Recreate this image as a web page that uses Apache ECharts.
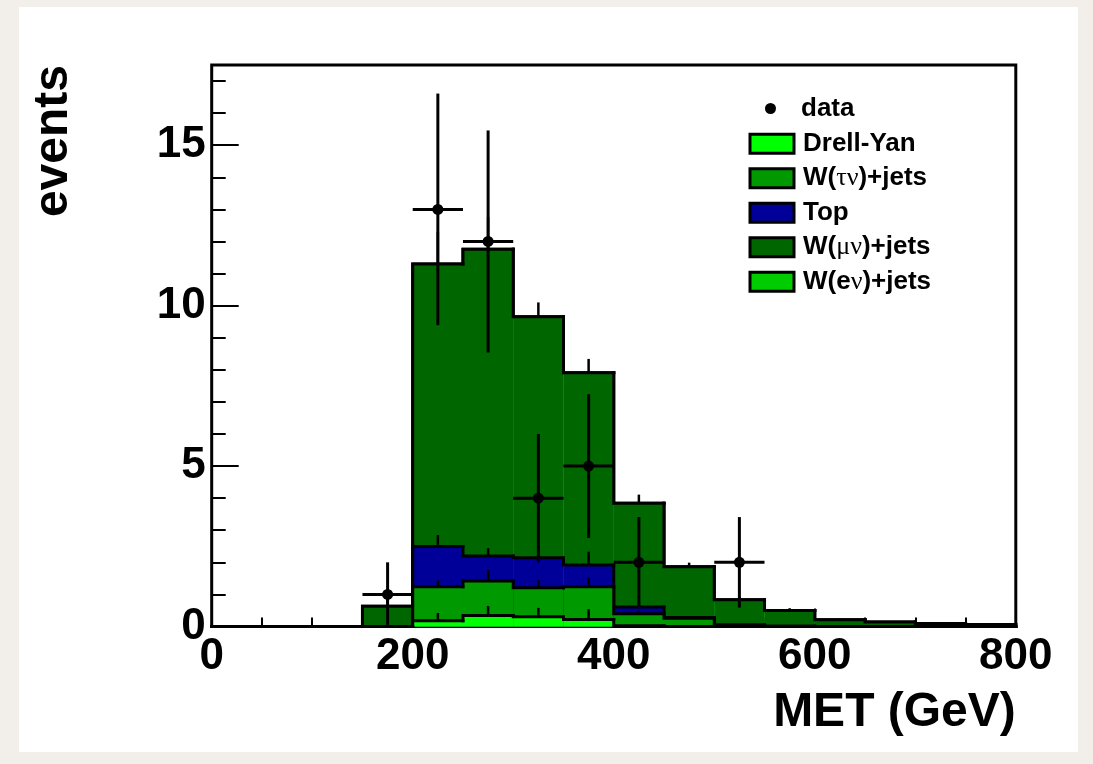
<!DOCTYPE html>
<html>
<head>
<meta charset="utf-8">
<script src="https://cdn.jsdelivr.net/npm/echarts@6/dist/echarts.min.js"></script>
<style>
  html, body { margin: 0; padding: 0; background: #f2efea; }
  #chart { width: 1093px; height: 764px; }
</style>
</head>
<body>
<div id="chart"></div>
<script>
// MET histogram bins: 50 GeV wide, 0 - 800 GeV
const binEdges = [0, 50, 100, 150, 200, 250, 300, 350, 400, 450, 500, 550, 600, 650, 700, 750, 800];

// Expected events per bin for each background sample (stacked bottom to top)
const drellYan = [0, 0, 0, 0, 0.18, 0.34, 0.30, 0.22, 0.02, 0, 0, 0, 0, 0, 0, 0];
const wTauNu   = [0, 0, 0, 0, 1.06, 1.08, 0.91, 1.02, 0.38, 0.26, 0.05, 0.01, 0, 0, 0, 0];
const topQuark = [0, 0, 0, 0, 1.25, 0.78, 0.93, 0.68, 0.21, 0.02, 0, 0, 0, 0, 0, 0];
const wMuNu    = [0, 0, 0, 0.63, 8.81, 9.56, 7.51, 5.99, 3.23, 1.58, 0.78, 0.49, 0.21, 0.14, 0.09, 0.06];
const wENu     = [0, 0, 0, 0, 0, 0, 0, 0, 0, 0, 0, 0, 0, 0, 0, 0];

// MC statistical uncertainty on each stacked histogram
const errDrellYan = [0, 0, 0, 0, 0.24, 0.30, 0.28, 0.32, 0, 0, 0, 0, 0, 0, 0, 0];
const errWTauNu   = [0, 0, 0, 0, 0.20, 0.34, 0.24, 0.30, 0.10, 0, 0, 0, 0, 0, 0, 0];
const errTop      = [0, 0, 0, 0, 0.36, 0.24, 0.30, 0.41, 0.15, 0, 0, 0, 0, 0, 0, 0];
const errWMuNu    = [0, 0, 0, 0.30, 1.00, 1.00, 0.45, 0.43, 0.27, 0.13, 0.07, 0.07, 0.04, 0, 0, 0];

// Observed data (bin centres, counts, sqrt(N) uncertainties)
const dataX   = [175, 225, 275, 325, 375, 425, 525];
const dataY   = [1, 13, 12, 4, 5, 2, 2];
const dataErr = [1, 3.61, 3.46, 2, 2.24, 1.41, 1.41];

// Axis ticks
const xMajorTicks = [0, 200, 400, 600, 800];
const xMinorTicks = [50, 100, 150, 250, 300, 350, 450, 500, 550, 650, 700, 750];
const yMajorTicks = [0, 5, 10, 15];
const yMinorTicks = [1, 2, 3, 4, 6, 7, 8, 9, 11, 12, 13, 14, 16, 17];

const X_MIN = 0, X_MAX = 800, Y_MIN = 0, Y_MAX = 17.5;
const FONT = '"Liberation Sans", Arial, Helvetica, sans-serif';
const nBins = binEdges.length - 1;

const layers = [
  { name: 'Drell-Yan',  values: drellYan, err: errDrellYan, color: '#00ff00' },
  { name: 'W(τν)+jets', values: wTauNu,   err: errWTauNu,   color: '#009900' },
  { name: 'Top',        values: topQuark, err: errTop,      color: '#000099' },
  { name: 'W(μν)+jets', values: wMuNu,    err: errWMuNu,    color: '#006600' },
  { name: 'W(eν)+jets', values: wENu,     err: null,        color: '#00cc00' }
];

// cumulative stack heights
let running = new Array(nBins).fill(0);
layers.forEach(l => {
  running = running.map((v, i) => v + l.values[i]);
  l.cum = running.slice();
});

// highest stack drawn first, lower stacks painted over it
const mcSeries = layers.slice().reverse().map((l, k) => ({
  type: 'custom',
  name: l.name,
  z: 2 + k,
  itemStyle: { color: l.color },
  data: l.cum.map((c, i) => [
    binEdges[i], binEdges[i + 1], c,
    i === 0 ? 0 : l.cum[i - 1],
    l.err ? l.err[i] : 0,
    i === nBins - 1 ? 1 : 0
  ]),
  encode: { x: [0, 1], y: 2 },
  renderItem: function (params, api) {
    const lo = api.value(0), hi = api.value(1), c = api.value(2);
    const prev = api.value(3), e = api.value(4), last = api.value(5);
    const children = [];
    const p0 = api.coord([lo, 0]);
    const p1 = api.coord([hi, c]);
    if (c > 0) {
      children.push({
        type: 'rect', z2: 0,
        shape: { x: p0[0], y: p1[1], width: p1[0] - p0[0], height: p0[1] - p1[1] },
        style: { fill: l.color }
      });
    }
    const pts = [api.coord([lo, prev]), api.coord([lo, c]), api.coord([hi, c])];
    if (last) pts.push(api.coord([hi, 0]));
    children.push({
      type: 'polyline', z2: 1,
      shape: { points: pts },
      style: { stroke: '#000', lineWidth: 3, fill: null, lineCap: 'square', lineJoin: 'miter' }
    });
    if (e > 0) {
      const mid = (lo + hi) / 2;
      const a = api.coord([mid, c]), b = api.coord([mid, c + e]);
      children.push({
        type: 'line', z2: 1,
        shape: { x1: a[0], y1: a[1], x2: b[0], y2: b[1] },
        style: { stroke: '#000', lineWidth: 2.5 }
      });
    }
    return { type: 'group', children: children };
  }
}));

const halfBin = (binEdges[1] - binEdges[0]) / 2;

const dataSeries = {
  type: 'custom',
  name: 'data',
  z: 20,
  itemStyle: { color: '#000' },
  data: dataX.map((x, i) => [x, dataY[i], dataErr[i]]),
  encode: { x: 0, y: 1 },
  renderItem: function (params, api) {
    const x = api.value(0), y = api.value(1), e = api.value(2);
    const c = api.coord([x, y]);
    const lo = api.coord([x, Math.max(0, y - e)]);
    const hi = api.coord([x, y + e]);
    const l = api.coord([x - halfBin, y]);
    const r = api.coord([x + halfBin, y]);
    const ls = { stroke: '#000', lineWidth: 3 };
    return {
      type: 'group',
      children: [
        { type: 'line', shape: { x1: lo[0], y1: lo[1], x2: hi[0], y2: hi[1] }, style: ls },
        { type: 'line', shape: { x1: l[0], y1: l[1], x2: r[0], y2: r[1] }, style: ls },
        { type: 'circle', shape: { cx: c[0], cy: c[1], r: 5.5 }, style: { fill: '#000' } }
      ]
    };
  }
};

const labelStyle = { fontFamily: FONT, fontWeight: 'bold', fontSize: 44, color: '#000' };

const chart = echarts.init(document.getElementById('chart'), null, { renderer: 'canvas' });
chart.setOption({
  animation: false,
  backgroundColor: '#f2efea',
  graphic: [{
    type: 'rect', z: -10, silent: true,
    shape: { x: 19, y: 7, width: 1059, height: 745 },
    style: { fill: '#ffffff' }
  }],
  grid: {
    left: 211.7, right: 77.2, top: 65, bottom: 137.5,
    show: true, backgroundColor: '#fff', borderColor: '#000', borderWidth: 3,
    containLabel: false, outerBoundsMode: 'none'
  },
  legend: [
    {
      data: [{ name: 'data', icon: 'circle', itemStyle: { color: '#000' } }],
      left: 765, top: 95.5, padding: 0,
      itemWidth: 11, itemHeight: 11,
      textStyle: { fontFamily: FONT, fontWeight: 'bold', fontSize: 26, color: '#000', padding: [0, 0, 0, 20] }
    },
    {
      data: layers.map(l => ({
        name: l.name, icon: 'rect',
        itemStyle: { color: l.color, borderColor: '#000', borderWidth: 3 }
      })),
      orient: 'vertical',
      left: 748.5, top: 130.7, padding: 0,
      itemWidth: 44, itemHeight: 19, itemGap: 8.5,
      formatter: name => name.replace(/([τνμ]+)/g, '{g|$1}'),
      textStyle: {
        fontFamily: FONT, fontWeight: 'bold', fontSize: 26, color: '#000', padding: [0, 0, 0, 4],
        rich: { g: { fontFamily: '"Liberation Serif", "DejaVu Serif", serif', fontWeight: 'normal', fontSize: 26, color: '#000' } }
      }
    }
  ],
  xAxis: [
    {
      type: 'value', min: X_MIN, max: X_MAX, position: 'bottom',
      name: 'MET (GeV)', nameLocation: 'end', nameGap: 0, nameMoveOverlap: false,
      nameTextStyle: { fontFamily: FONT, fontWeight: 'bold', fontSize: 48, color: '#000',
        align: 'right', verticalAlign: 'top', padding: [62, 0, 0, 0] },
      axisLine: { show: false },
      splitLine: { show: false },
      axisTick: { show: true, inside: true, length: 18, customValues: xMajorTicks, lineStyle: { color: '#000', width: 2 } },
      axisLabel: { show: true, customValues: xMajorTicks, margin: 8, hideOverlap: false, ...labelStyle },
      z: 1
    },
    {
      type: 'value', min: X_MIN, max: X_MAX, position: 'bottom',
      axisLine: { show: false }, splitLine: { show: false }, axisLabel: { show: false },
      axisTick: { show: true, inside: true, length: 9, customValues: xMinorTicks, lineStyle: { color: '#000', width: 2 } },
      z: 1
    }
  ],
  yAxis: [
    {
      type: 'value', min: Y_MIN, max: Y_MAX, position: 'left',
      name: 'events', nameLocation: 'end', nameGap: 0, nameRotate: 90, nameMoveOverlap: false,
      nameTextStyle: { fontFamily: FONT, fontWeight: 'bold', fontSize: 48, color: '#000',
        align: 'right', verticalAlign: 'bottom', padding: [0, 0, 134, 0] },
      axisLine: { show: false },
      splitLine: { show: false },
      axisTick: { show: true, inside: true, length: 27, customValues: yMajorTicks, lineStyle: { color: '#000', width: 2 } },
      axisLabel: { show: true, customValues: yMajorTicks, margin: 6, hideOverlap: false, ...labelStyle },
      z: 1
    },
    {
      type: 'value', min: Y_MIN, max: Y_MAX, position: 'left',
      axisLine: { show: false }, splitLine: { show: false }, axisLabel: { show: false },
      axisTick: { show: true, inside: true, length: 14, customValues: yMinorTicks, lineStyle: { color: '#000', width: 2 } },
      z: 1
    }
  ],
  series: mcSeries.concat([dataSeries])
});
</script>
</body>
</html>
